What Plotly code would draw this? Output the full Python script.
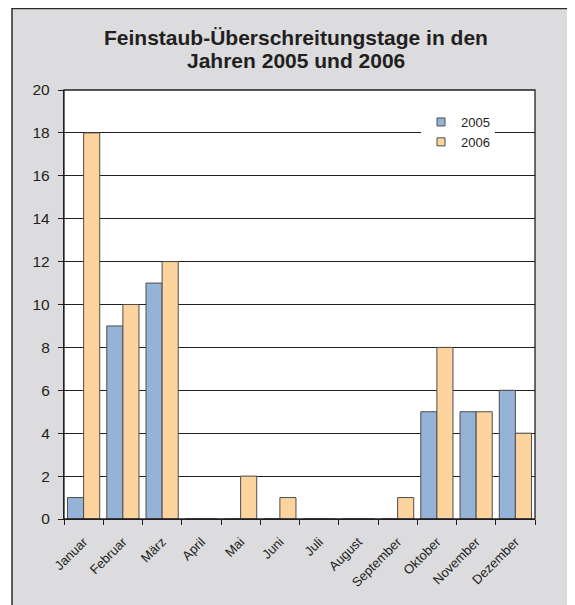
import plotly.graph_objects as go

months = ["Januar", "Februar", "März", "April", "Mai", "Juni", "Juli",
          "August", "September", "Oktober", "November", "Dezember"]
values_2005 = [1, 9, 11, 0, 0, 0, 0, 0, 0, 5, 5, 6]
values_2006 = [18, 10, 12, 0, 2, 1, 0, 0, 1, 8, 5, 4]
y_ticks = [0, 2, 4, 6, 8, 10, 12, 14, 16, 18, 20]
title_lines = ["Feinstaub-Überschreitungstage in den", "Jahren 2005 und 2006"]

FONT = "Arial, Liberation Sans, sans-serif"
TXT = "#231f20"
C2005 = "#95b3d7"
C2006 = "#fdd49e"
EDGE = "#4d4d4d"

# page has an 8px body margin: figure coords = screen coords - 8
W, H = 567, 597
L, R, T, B = 56, 40, 82, 86
pw = W - L - R
ph = H - T - B

def px_x(x):
    return (x - L) / pw

def px_y(y):
    return (H - B - y) / ph

fig = go.Figure()
fig.add_trace(go.Bar(name="2005", x=months, y=values_2005, showlegend=False,
                     marker=dict(color=C2005, line=dict(color=EDGE, width=1))))
fig.add_trace(go.Bar(name="2006", x=months, y=values_2006, showlegend=False,
                     marker=dict(color=C2006, line=dict(color=EDGE, width=1))))
# legend entries with small square symbols
for name, col in [("2005", C2005), ("2006", C2006)]:
    fig.add_trace(go.Scatter(name=name, x=[None], y=[None], mode="markers",
                             marker=dict(symbol="square", size=8, color=col,
                                         line=dict(color=EDGE, width=1))))

annotations = []
for i, line in enumerate(title_lines):
    annotations.append(dict(text="<b>" + line + "</b>", xref="paper", yref="paper",
                            x=px_x(288), y=px_y(29 + 23.5 * i), xanchor="center",
                            yanchor="middle", showarrow=False,
                            font=dict(size=21, family=FONT, color=TXT)))

fig.update_layout(
    width=W, height=H,
    margin=dict(l=L, r=R, t=T, b=B),
    paper_bgcolor="white",
    plot_bgcolor="rgba(0,0,0,0)",
    barmode="group",
    bargap=0.18,
    bargroupgap=0,
    font=dict(family=FONT, color=TXT, size=13),
    annotations=annotations,
    legend=dict(x=px_x(413), y=px_y(99), xanchor="left", yanchor="top",
                bgcolor="white", font=dict(size=13, family=FONT, color=TXT),
                itemwidth=30, tracegroupgap=0),
    showlegend=True,
    shapes=[
        dict(type="rect", xref="paper", yref="paper", layer="below",
             x0=px_x(4), x1=px_x(640), y0=px_y(660), y1=px_y(0.5),
             fillcolor="#dcdcde", line=dict(color="#2b2b2b", width=1.5)),
        dict(type="rect", xref="paper", yref="paper", layer="below",
             x0=0, x1=1, y0=0, y1=1,
             fillcolor="white", line=dict(width=0)),
        dict(type="rect", xref="paper", yref="paper", layer="above",
             x0=0, x1=1, y0=0, y1=1,
             fillcolor="rgba(0,0,0,0)", line=dict(color="#231f20", width=1.3)),
    ],
)
fig.update_xaxes(tickangle=-45, tickson="boundaries", ticks="outside", ticklen=5,
                 tickcolor="#231f20", showline=True, linecolor="#231f20", linewidth=1.3,
                 ticklabelstandoff=9,
                 tickfont=dict(size=13, family=FONT, color=TXT), showgrid=False)
fig.update_yaxes(range=[0, 20], tickvals=y_ticks, ticks="outside", ticklen=5,
                 tickcolor="#231f20", showline=True, linecolor="#231f20", linewidth=1.3,
                 gridcolor="#231f20", gridwidth=1, zeroline=False,
                 ticklabelstandoff=5,
                 tickfont=dict(size=15.5, family=FONT, color=TXT))

fig.write_html("out.html")
